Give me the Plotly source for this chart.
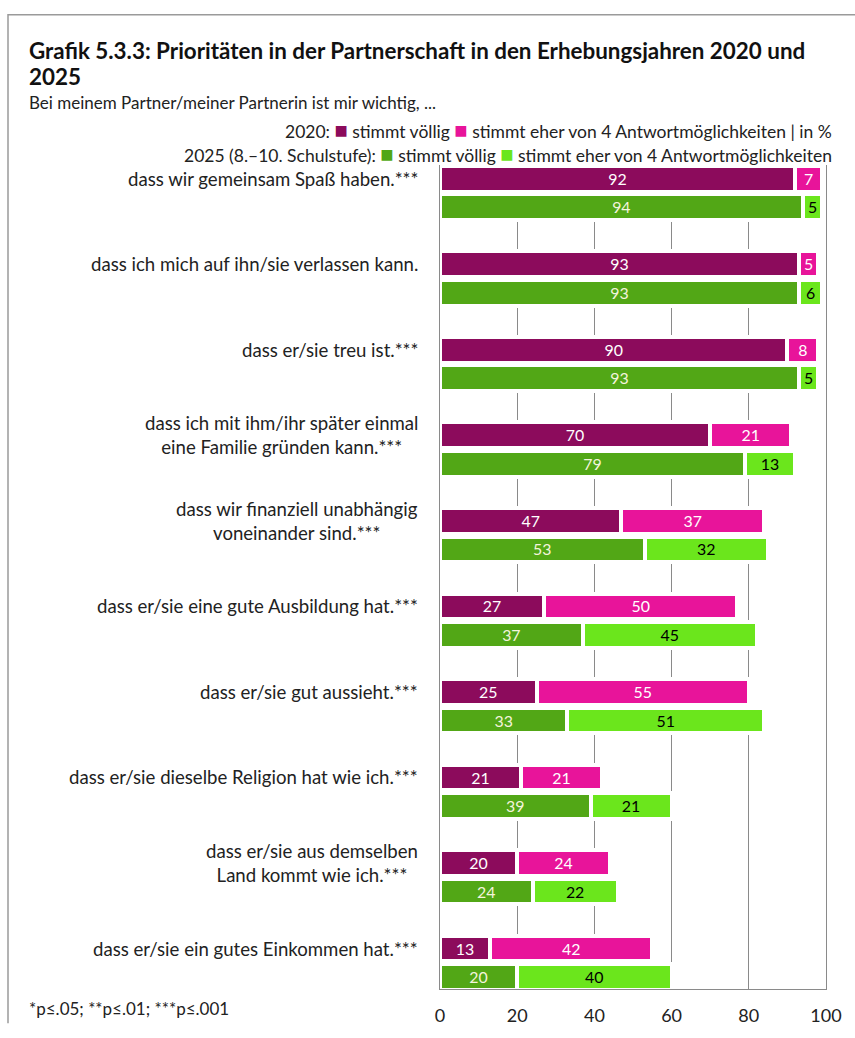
import plotly.graph_objects as go

categories = [
    "dass wir gemeinsam Spaß haben.***",
    "dass ich mich auf ihn/sie verlassen kann.",
    "dass er/sie treu ist.***",
    "dass ich mit ihm/ihr später einmal<br>eine Familie gründen kann.***",
    "dass wir finanziell unabhängig<br>voneinander sind.***",
    "dass er/sie eine gute Ausbildung hat.***",
    "dass er/sie gut aussieht.***",
    "dass er/sie dieselbe Religion hat wie ich.***",
    "dass er/sie aus demselben<br>Land kommt wie ich.***",
    "dass er/sie ein gutes Einkommen hat.***",
]
v2020_voellig = [92, 93, 90, 70, 47, 27, 25, 21, 20, 13]
v2020_eher = [7, 5, 8, 21, 37, 50, 55, 21, 24, 42]
v2025_voellig = [94, 93, 93, 79, 53, 37, 33, 39, 24, 20]
v2025_eher = [5, 6, 5, 13, 32, 45, 51, 21, 22, 40]
x_ticks = [0, 20, 40, 60, 80, 100]

C_2020_V = "#8C0B5C"
C_2020_E = "#E8149A"
C_2025_V = "#52A716"
C_2025_E = "#6BE61C"
FONT = "Lato, 'Open Sans', sans-serif"
TXT = "#222222"

W, H = 855, 1038
PL, PR, PT, PB = 440, 826, 165, 1010          # plot box in pixels
L, T, R, B = PL, PT, W - PR, H - PB
PW = PR - PL
PH = PB - PT


def px_x(px):
    return (px - PL) / PW


def px_y(py):
    return (PB - py) / PH


n = len(categories)
y2020 = [3 * i for i in range(n)]
y2025 = [3 * i + 1 for i in range(n)]

bw = 0.9
lw = 4

fig = go.Figure()


def add(vals, ys, color, tcolor, name):
    fig.add_trace(go.Bar(
        x=vals, y=ys, orientation="h", width=bw, name=name,
        marker=dict(color=color, line=dict(color="white", width=lw)),
        text=[str(v) for v in vals], textposition="inside",
        insidetextanchor="middle", textangle=0,
        textfont=dict(color=tcolor, size=17, family=FONT),
        showlegend=False, hoverinfo="skip", cliponaxis=False,
    ))


add(v2020_voellig, y2020, C_2020_V, "white", "2020 stimmt völlig")
add(v2020_eher, y2020, C_2020_E, "white", "2020 stimmt eher")
add(v2025_voellig, y2025, C_2025_V, "#F4F4DC", "2025 stimmt völlig")
add(v2025_eher, y2025, C_2025_E, "black", "2025 stimmt eher")

annotations = []
for i, c in enumerate(categories):
    annotations.append(dict(
        x=0, xref="paper", y=y2020[i], yref="y", text=c,
        xanchor="right", yanchor="middle", align="center", xshift=-20,
        showarrow=False, font=dict(size=18.6, color=TXT, family=FONT),
    ))

SQ = "<span style='color:{c};font-size:22px'>■</span>"

annotations += [
    dict(x=px_x(27), y=px_y(48), xref="paper", yref="paper",
         text="<b>Grafik 5.3.3: Prioritäten in der Partnerschaft in den Erhebungsjahren 2020 und</b>",
         xanchor="left", yanchor="middle", showarrow=False,
         font=dict(size=22.4, color="#111111", family=FONT)),
    dict(x=px_x(27), y=px_y(74), xref="paper", yref="paper",
         text="<b>2025</b>", xanchor="left", yanchor="middle", showarrow=False,
         font=dict(size=22.4, color="#111111", family=FONT)),
    dict(x=px_x(27), y=px_y(101), xref="paper", yref="paper",
         text="Bei meinem Partner/meiner Partnerin ist mir wichtig, ...",
         xanchor="left", yanchor="middle", showarrow=False,
         font=dict(size=17, color=TXT, family=FONT)),
    dict(x=px_x(834), y=px_y(129), xref="paper", yref="paper",
         text="2020: " + SQ.format(c=C_2020_V) + " stimmt völlig "
              + SQ.format(c=C_2020_E) + " stimmt eher von 4 Antwortmöglichkeiten | in %",
         xanchor="right", yanchor="middle", showarrow=False,
         font=dict(size=17.5, color=TXT, family=FONT)),
    dict(x=px_x(834), y=px_y(153), xref="paper", yref="paper",
         text="2025 (8.–10. Schulstufe): " + SQ.format(c=C_2025_V) + " stimmt völlig "
              + SQ.format(c=C_2025_E) + " stimmt eher von 4 Antwortmöglichkeiten",
         xanchor="right", yanchor="middle", showarrow=False,
         font=dict(size=17.5, color=TXT, family=FONT)),
    dict(x=px_x(27), y=px_y(1030), xref="paper", yref="paper",
         text="*p≤.05; **p≤.01; ***p≤.001",
         xanchor="left", yanchor="middle", showarrow=False,
         font=dict(size=17, color=TXT, family=FONT)),
]

shapes = [dict(
    type="path", xref="paper", yref="paper",
    path=f"M {px_x(8)} {px_y(1045)} L {px_x(8)} {px_y(11)} L {px_x(870)} {px_y(11)}",
    line=dict(color="#9A9A9A", width=1.5),
)]

fig.update_layout(
    width=W, height=H,
    margin=dict(l=L, r=R, t=T, b=B),
    paper_bgcolor="white", plot_bgcolor="white",
    barmode="stack",
    annotations=annotations,
    shapes=shapes,
    xaxis=dict(
        range=[0, 100], tickvals=x_ticks, ticktext=[str(t) for t in x_ticks],
        showgrid=True, gridcolor="#8A8A8A", gridwidth=1,
        showline=True, linecolor="#8A8A8A", linewidth=1,
        zeroline=False, ticks="", ticklabelstandoff=10,
        tickfont=dict(size=18, color=TXT, family=FONT), fixedrange=True,
    ),
    yaxis=dict(
        range=[3 * (n - 1) + 1 + 0.42, -0.48],
        showticklabels=False, showgrid=False, zeroline=False,
        showline=True, mirror=True, linecolor="#8A8A8A", linewidth=1,
        ticks="", fixedrange=True,
    ),
)

fig.write_html(
    "out.html",
    config={"displayModeBar": False, "staticPlot": True},
    post_script="document.body.style.margin='0';document.body.style.overflow='hidden';",
)
